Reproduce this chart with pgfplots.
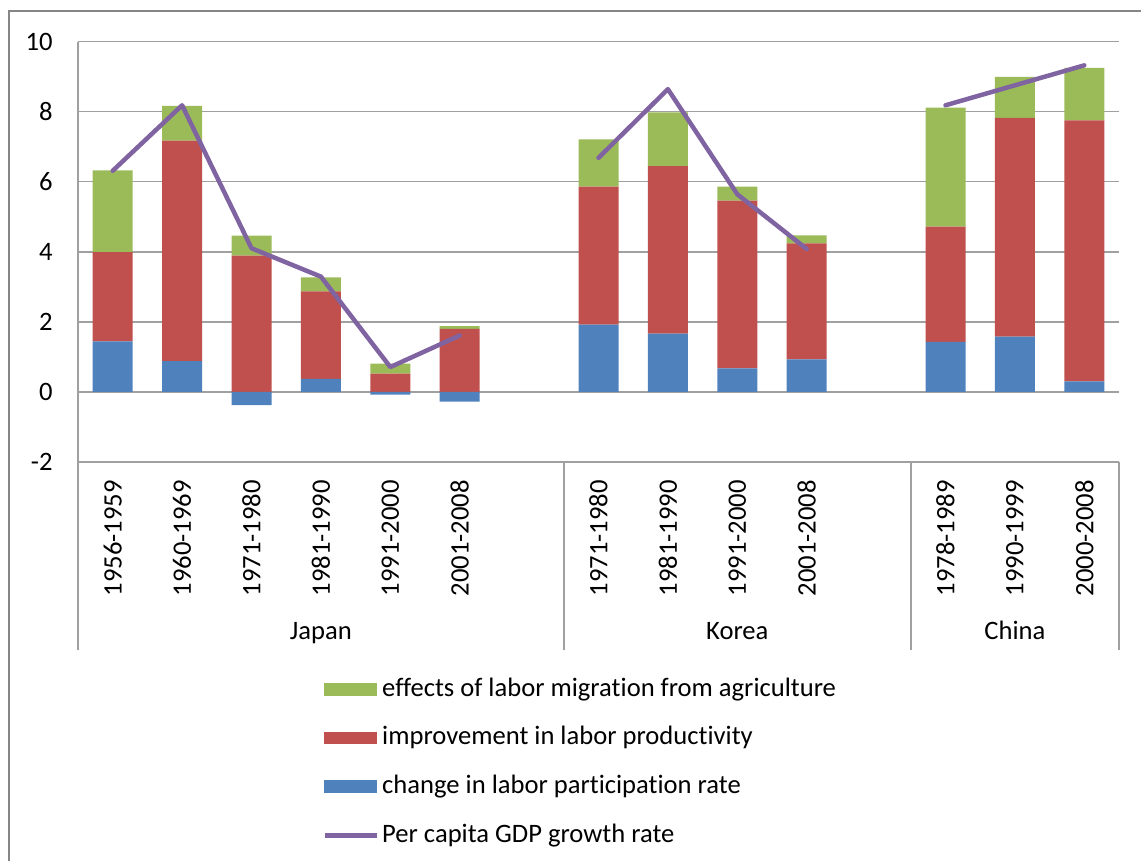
\documentclass[border=0pt]{standalone}
\usepackage{fontspec}
\setmainfont{Carlito}[Ligatures=CommonOff]
\usepackage{pgfplots}
\usepackage{pgfplotstable}
\pgfplotsset{compat=1.18}
\definecolor{cblue}{HTML}{4F81BD}
\definecolor{cred}{HTML}{C0504D}
\definecolor{cgreen}{HTML}{9BBB59}
\definecolor{cpurple}{HTML}{8064A2}
\definecolor{cgrid}{HTML}{A0A0A0}
\definecolor{cframe}{HTML}{868686}

\pgfplotstableread{
x  bpos  red   green
0  1.44  2.55  2.33
1  0.88  6.29  0.99
2  0.00  3.89  0.57
3  0.37  2.50  0.40
4  0.00  0.52  0.29
5  0.00  1.80  0.08
7  1.92  3.94  1.35
8  1.66  4.78  1.54
9  0.67  4.79  0.40
10 0.93  3.31  0.23
12 1.43  3.29  3.39
13 1.58  6.24  1.17
14 0.30  7.45  1.50
}\stacked

\pgfplotstableread{
x  bneg
2  -0.38
4  -0.08
5  -0.28
}\negblue

\pgfplotstableread{
x  gdp
0  6.31
1  8.18
2  4.10
3  3.29
4  0.71
5  1.61
6  nan
7  6.68
8  8.64
9  5.64
10 4.08
11 nan
12 8.18
13 8.75
14 9.32
}\gdp

\begin{document}
\fontsize{13.3pt}{16pt}\selectfont
\begin{tikzpicture}
\useasboundingbox (0,0) rectangle (570.5pt,-430.5pt);
\draw[cframe, line width=1.3pt] (4.5pt,-445pt) -- (4.5pt,-5.5pt) -- (585pt,-5.5pt);
\pgfplotsset{common/.style={scale only axis, width=520.5pt, height=210.25pt,
  at={(39pt,-231pt)}, anchor=south west,
  xmin=-0.5, xmax=14.5, ymin=-2, ymax=10}}
\begin{axis}[common, ybar stacked, bar width=20pt,
  axis x line*=bottom, axis y line*=left,
  axis line style={cgrid, line width=0.75pt, -},
  ymajorgrids, grid style={cgrid, line width=0.75pt},
  ytick={-2,0,2,4,6,8,10}, yticklabels={-2,0,2,4,6,8,10},
  xtick={0,1,2,3,4,5,7,8,9,10,12,13,14},
  xticklabels={1956-1959,1960-1969,1971-1980,1981-1990,1991-2000,2001-2008,1971-1980,1981-1990,1991-2000,2001-2008,1978-1989,1990-1999,2000-2008},
  major tick length=0pt,
  xticklabel style={rotate=90, anchor=east, inner xsep=9pt, inner ysep=0pt},
  yticklabel style={anchor=east, inner xsep=12.5pt, inner ysep=0pt},
  clip=false]
\addplot[fill=cblue, draw=none] table[x=x, y=bpos]{\stacked};
\addplot[fill=cred, draw=none] table[x=x, y=red]{\stacked};
\addplot[fill=cgreen, draw=none] table[x=x, y=green]{\stacked};
\draw[cgrid, line width=0.75pt] (axis cs:-0.5,-2) -- ++(0pt,-94pt);
\draw[cgrid, line width=0.75pt] (axis cs:6.5,-2) -- ++(0pt,-94pt);
\draw[cgrid, line width=0.75pt] (axis cs:11.5,-2) -- ++(0pt,-94pt);
\draw[cgrid, line width=0.75pt] (axis cs:14.5,-2) -- ++(0pt,-94pt);
\node[anchor=base, yshift=-88.5pt] at (axis cs:3,-2) {Japan};
\node[anchor=base, yshift=-88.5pt] at (axis cs:9,-2) {Korea};
\node[anchor=base, yshift=-88.5pt] at (axis cs:13,-2) {China};
\end{axis}
\begin{axis}[common, hide axis, clip=false,
  legend style={at={(0.2344,-0.504)}, anchor=north west, draw=none, fill=none,
    inner sep=0pt, row sep=9.3pt, legend cell align=left,
    nodes={inner xsep=1.5pt, inner ysep=1.5pt, text height=9.5pt, text depth=2.5pt},
    font=\fontsize{13.3pt}{16pt}\selectfont}]
\addlegendimage{legend image code/.code={\fill[cgreen] (0pt,-2.9pt) rectangle (26pt,2.9pt);}}
\addlegendentry{effects of labor migration from agriculture}
\addlegendimage{legend image code/.code={\fill[cred] (0pt,-2.9pt) rectangle (26pt,2.9pt);}}
\addlegendentry{improvement in labor productivity}
\addlegendimage{legend image code/.code={\fill[cblue] (0pt,-2.9pt) rectangle (26pt,2.9pt);}}
\addlegendentry{change in labor participation rate}
\addlegendimage{legend image code/.code={\draw[cpurple, line width=2.4pt] (0pt,0pt) -- (26pt,0pt);}}
\addlegendentry{Per capita GDP growth rate}
\addplot[ybar, bar width=20pt, fill=cblue, draw=none, forget plot] table[x=x, y=bneg]{\negblue};
\addplot[cpurple, line width=2.25pt, line join=round, line cap=round, unbounded coords=jump, mark=none, forget plot] table[x=x, y=gdp]{\gdp};
\end{axis}
\end{tikzpicture}
\end{document}
